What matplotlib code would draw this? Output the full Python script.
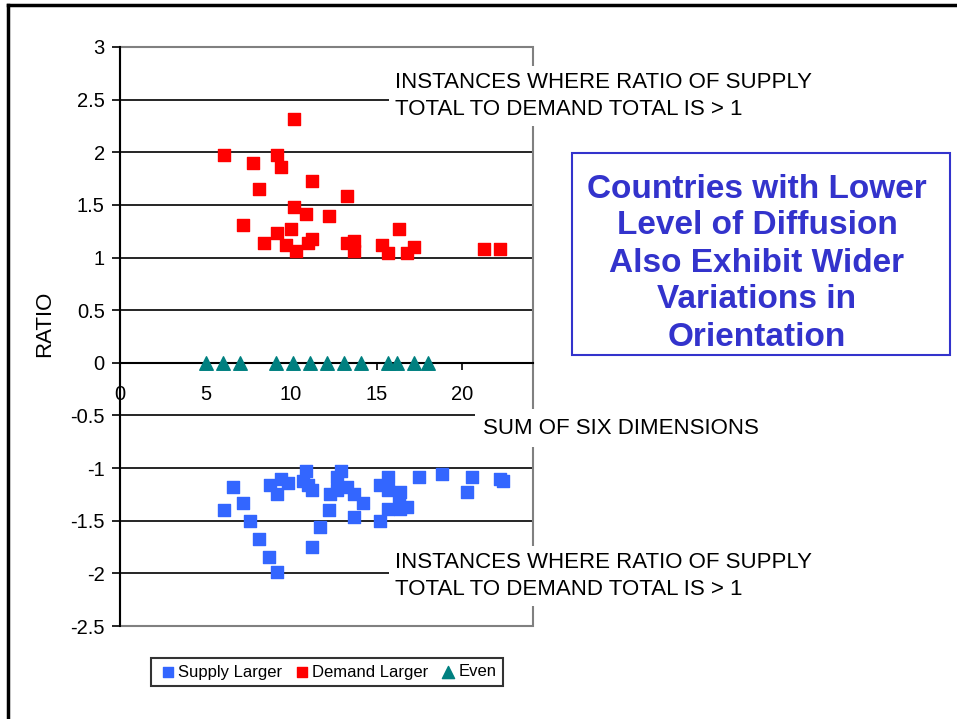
import numpy as np
import matplotlib.pyplot as plt
from matplotlib.patches import Rectangle
from matplotlib.lines import Line2D

plt.rcParams['font.family'] = ['Liberation Sans', 'DejaVu Sans']

# sum of six dimensions (x) and ratio (y)
supply_x = [6.1, 6.6, 7.2, 7.6, 8.1, 8.7, 9.2, 8.8, 9.2, 9.4, 9.8, 10.7, 10.9, 11.0,
            11.2, 11.2, 11.7, 12.2, 12.3, 12.7, 12.9, 12.7, 13.3, 13.7, 13.7, 14.2,
            15.2, 15.2, 15.7, 15.7, 15.7, 16.4, 16.3, 16.4, 16.8, 17.5, 18.8, 20.3,
            20.6, 22.2, 22.4]
supply_y = [-1.40, -1.18, -1.33, -1.50, -1.67, -1.84, -1.99, -1.16, -1.25, -1.10, -1.14,
            -1.12, -1.03, -1.16, -1.21, -1.75, -1.56, -1.40, -1.25, -1.08, -1.03, -1.21,
            -1.18, -1.25, -1.46, -1.33, -1.16, -1.50, -1.08, -1.21, -1.39, -1.23, -1.31,
            -1.39, -1.37, -1.08, -1.06, -1.23, -1.08, -1.10, -1.12]

demand_x = [10.2, 6.1, 7.8, 9.2, 9.4, 11.2, 8.1, 13.3, 10.2, 10.9, 12.2, 7.2, 10.0,
            9.2, 8.4, 9.7, 10.3, 11.0, 11.2, 13.3, 13.7, 13.7, 15.3, 15.7, 16.3, 16.8,
            17.2, 21.3, 22.2]
demand_y = [2.32, 1.97, 1.90, 1.97, 1.86, 1.73, 1.65, 1.58, 1.48, 1.41, 1.39, 1.31,
            1.27, 1.23, 1.14, 1.12, 1.06, 1.14, 1.18, 1.14, 1.16, 1.06, 1.12, 1.04,
            1.27, 1.04, 1.10, 1.08, 1.08]

even_x = [5.0, 6.0, 7.0, 9.1, 10.1, 11.1, 12.1, 13.1, 14.1, 15.7, 16.2, 17.2, 18.0]
even_y = [0] * len(even_x)

fig = plt.figure(figsize=(9.57, 7.19), dpi=100)
ax = fig.add_axes([120 / 957, 1 - 626 / 719, 413 / 957, 579 / 719])

ax.scatter(supply_x, supply_y, marker='s', s=66, color='#3366FF', zorder=4,
           label='Supply Larger')
ax.scatter(demand_x, demand_y, marker='s', s=66, color='#FF0000', zorder=4,
           label='Demand Larger')
ax.scatter(even_x, even_y, marker='^', s=95, color='#008080', zorder=4, label='Even')

ax.set_xlim(0, 24.15)
ax.set_ylim(-2.5, 3)
ax.set_xticks([0, 5, 10, 15, 20])
ax.set_yticks(np.arange(-2.5, 3.01, 0.5))
ax.set_yticklabels(['-2.5', '-2', '-1.5', '-1', '-0.5', '0', '0.5', '1', '1.5', '2',
                    '2.5', '3'])
ax.yaxis.grid(True, color='black', lw=1.2, zorder=1)
ax.set_axisbelow(True)

for s in ['top', 'right']:
    ax.spines[s].set_visible(False)
ax.spines['bottom'].set_position(('data', 0))
ax.spines['bottom'].set_linewidth(1.5)
ax.spines['left'].set_linewidth(1.5)
ax.add_patch(Rectangle((0, 0), 1, 1, transform=ax.transAxes, fill=False,
                       edgecolor='#808080', lw=1.5, zorder=2, clip_on=False))

ax.tick_params(axis='y', direction='out', length=6, width=1.2, pad=5, labelsize=14.5)
ax.tick_params(axis='x', direction='out', length=5, width=1.2, pad=11, labelsize=14.5)

fig.text(45 / 957, 1 - 324 / 719, 'RATIO', rotation=90, ha='center', va='center',
         fontsize=16)

note = 'INSTANCES WHERE RATIO OF SUPPLY\nTOTAL TO DEMAND TOTAL IS > 1'
box = dict(facecolor='white', edgecolor='none', pad=4)
fig.text(395 / 957, 1 - 96 / 719, note, ha='left', va='center', fontsize=16,
         linespacing=1.4, bbox=box, zorder=10)
fig.text(395 / 957, 1 - 576 / 719, note, ha='left', va='center', fontsize=16,
         linespacing=1.4, bbox=box, zorder=10)
fig.text(483 / 957, 1 - 428 / 719, 'SUM OF SIX DIMENSIONS', ha='left', va='center',
         fontsize=16, bbox=dict(facecolor='white', edgecolor='none', pad=6), zorder=10)

# blue call-out box
fig.patches.append(Rectangle((572 / 957, 1 - 355 / 719), 378 / 957, 202 / 719,
                             transform=fig.transFigure, fill=False,
                             edgecolor='#3333CC', lw=1.5))
fig.text(757 / 957, 1 - 263 / 719,
         'Countries with Lower\nLevel of Diffusion\nAlso Exhibit Wider\nVariations in\nOrientation',
         ha='center', va='center', fontsize=24, fontweight='bold', color='#3333CC',
         linespacing=1.25)

# outer frame (left and top edges only)
fig.add_artist(Line2D([8 / 957, 8 / 957], [0, 1 - 5 / 719], transform=fig.transFigure,
                      color='black', lw=2.5))
fig.add_artist(Line2D([8 / 957, 1], [1 - 5 / 719, 1 - 5 / 719], transform=fig.transFigure,
                      color='black', lw=2.5))

leg = fig.legend(loc='center', bbox_to_anchor=(327 / 957, 1 - 672 / 719), ncol=3,
                 frameon=True, fancybox=False, edgecolor='black', fontsize=12,
                 handletextpad=0.0, columnspacing=0.6, borderpad=0.4, handlelength=1.2,
                 markerscale=0.9)
leg.get_frame().set_linewidth(1.5)

fig.savefig('out.png', dpi=100)
